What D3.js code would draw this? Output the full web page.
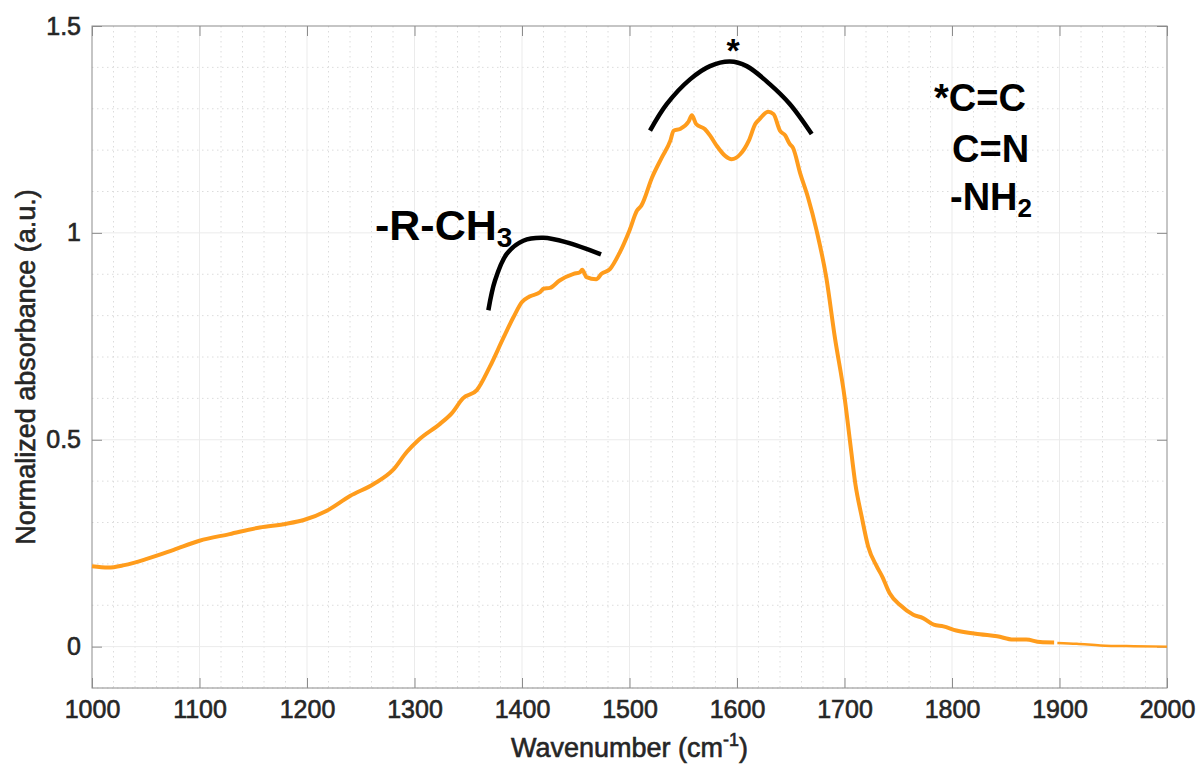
<!DOCTYPE html>
<html>
<head>
<meta charset="utf-8">
<script src="https://cdn.jsdelivr.net/npm/d3@7"></script>
<style>
  body { margin: 0; background: #fff; }
  text { font-family: "Liberation Sans", Arial, Helvetica, sans-serif; }
</style>
</head>
<body>
<div id="vis"></div>
<script>
// Frame and plot box
const FRAME_WIDTH = 1199;
const FRAME_HEIGHT = 767;
const MARGINS = {left: 92, right: 32, top: 26, bottom: 79};
const VIS_WIDTH = FRAME_WIDTH - MARGINS.left - MARGINS.right;
const VIS_HEIGHT = FRAME_HEIGHT - MARGINS.top - MARGINS.bottom;

// Spectrum, first (thick) segment: wavenumber and normalized absorbance
const wavenumbers = [1000, 1015, 1030, 1051, 1076, 1100, 1128, 1156, 1181, 1197,
  1218, 1240, 1262, 1280, 1293, 1304, 1324, 1335, 1345, 1358, 1370, 1383, 1392,
  1400, 1407, 1417, 1420, 1426, 1435, 1448, 1454, 1456, 1460, 1469, 1474, 1482,
  1491, 1500, 1507, 1511, 1521, 1530, 1538, 1541, 1547, 1555, 1558, 1562, 1570,
  1575, 1581, 1589, 1595, 1603, 1611, 1617, 1621, 1629, 1634, 1640, 1645, 1649,
  1652, 1659, 1666, 1674, 1683, 1691, 1700, 1705, 1710, 1716, 1722, 1730, 1735,
  1742, 1752, 1764, 1773, 1783, 1792, 1804, 1826, 1842, 1857, 1869, 1882, 1895];
const absorbance = [0.194, 0.191, 0.197, 0.212, 0.234, 0.256, 0.272, 0.288, 0.297, 0.306,
  0.328, 0.364, 0.393, 0.427, 0.471, 0.500, 0.539, 0.565, 0.600, 0.620, 0.676, 0.748, 0.796,
  0.833, 0.846, 0.857, 0.865, 0.867, 0.885, 0.901, 0.905, 0.911, 0.893, 0.888, 0.901, 0.913,
  0.953, 1.006, 1.054, 1.066, 1.134, 1.182, 1.223, 1.247, 1.251, 1.269, 1.284, 1.263, 1.251,
  1.235, 1.211, 1.186, 1.178, 1.190, 1.223, 1.263, 1.275, 1.293, 1.287, 1.247, 1.235, 1.215,
  1.206, 1.142, 1.086, 1.006, 0.893, 0.748, 0.604, 0.499, 0.395, 0.314, 0.242, 0.194, 0.170,
  0.129, 0.100, 0.077, 0.069, 0.053, 0.049, 0.039, 0.030, 0.025, 0.017, 0.017, 0.011, 0.010];

// Spectrum, second (thin) segment
const wavenumbersTail = [1898, 1916, 1938, 1969, 2000];
const absorbanceTail = [0.009, 0.007, 0.003, 0.001, 0.000];

// Hand-drawn brackets, in data coordinates
const bracketLeftX = [1368.7, 1374.9, 1385.8, 1401.2, 1419.8, 1441.6, 1473.5];
const bracketLeftY = [0.813, 0.885, 0.949, 0.981, 0.988, 0.977, 0.948];
const bracketRightX = [1519.1, 1534.6, 1556.3, 1574.9, 1593.5, 1609.0, 1630.7, 1649.3, 1669.5];
const bracketRightY = [1.247, 1.311, 1.371, 1.403, 1.414, 1.403, 1.359, 1.311, 1.239];

// Ticks
const xTicks = [1000, 1100, 1200, 1300, 1400, 1500, 1600, 1700, 1800, 1900, 2000];
const yTicks = [0, 0.5, 1, 1.5];
const yTickLabels = ["0", "0.5", "1", "1.5"];

const svg = d3.select("#vis")
  .append("svg")
    .attr("width", FRAME_WIDTH)
    .attr("height", FRAME_HEIGHT);

const X_SCALE = d3.scaleLinear().domain([1000, 2000]).range([0, VIS_WIDTH]);
const Y_SCALE = d3.scaleLinear().domain([-0.1, 1.5]).range([VIS_HEIGHT, 0]);

const g = svg.append("g")
  .attr("transform", "translate(" + MARGINS.left + "," + MARGINS.top + ")");

// minor dotted grid
g.append("g").selectAll("line")
  .data(d3.range(1020, 2000, 20).filter(v => v % 100 !== 0))
  .enter().append("line")
    .attr("x1", d => X_SCALE(d)).attr("x2", d => X_SCALE(d))
    .attr("y1", 0).attr("y2", VIS_HEIGHT)
    .attr("stroke", "#dcdcdc").attr("stroke-width", 1)
    .attr("stroke-dasharray", "1.5,3.5");
g.append("g").selectAll("line")
  .data(d3.range(-1, 15).map(i => i / 10).filter(v => Math.abs(v * 2 - Math.round(v * 2)) > 1e-6))
  .enter().append("line")
    .attr("x1", 0).attr("x2", VIS_WIDTH)
    .attr("y1", d => Y_SCALE(d)).attr("y2", d => Y_SCALE(d))
    .attr("stroke", "#dcdcdc").attr("stroke-width", 1)
    .attr("stroke-dasharray", "1.5,3.5");

// major grid
g.append("g").selectAll("line")
  .data(xTicks.slice(1, -1))
  .enter().append("line")
    .attr("x1", d => X_SCALE(d)).attr("x2", d => X_SCALE(d))
    .attr("y1", 0).attr("y2", VIS_HEIGHT)
    .attr("stroke", "#ebebeb").attr("stroke-width", 1);
g.append("g").selectAll("line")
  .data(yTicks.slice(0, -1))
  .enter().append("line")
    .attr("x1", 0).attr("x2", VIS_WIDTH)
    .attr("y1", d => Y_SCALE(d)).attr("y2", d => Y_SCALE(d))
    .attr("stroke", "#ebebeb").attr("stroke-width", 1);

// axes with inward ticks
const axisColor = "#8c8c8c";
const textColor = "#262626";
function styleAxis(sel) {
  sel.select(".domain").remove();
  sel.selectAll(".tick line").attr("stroke", axisColor);
  sel.selectAll(".tick text").attr("fill", textColor).attr("font-size", "25px")
    .attr("stroke", textColor).attr("stroke-width", 0.6)
    .attr("font-family", "'Liberation Sans', Arial, sans-serif");
}

g.append("g")
  .attr("transform", "translate(0," + VIS_HEIGHT + ")")
  .call(d3.axisBottom(X_SCALE).tickValues(xTicks).tickFormat(d3.format("d"))
    .tickSizeInner(-10).tickSizeOuter(0).tickPadding(12))
  .call(styleAxis);

g.append("g")
  .call(d3.axisTop(X_SCALE).tickValues(xTicks).tickFormat("")
    .tickSizeInner(-10).tickSizeOuter(0))
  .call(styleAxis);

g.append("g")
  .call(d3.axisLeft(Y_SCALE).tickValues(yTicks).tickFormat((d, i) => yTickLabels[i])
    .tickSizeInner(-10).tickSizeOuter(0).tickPadding(11))
  .call(styleAxis);

g.append("g")
  .attr("transform", "translate(" + VIS_WIDTH + ",0)")
  .call(d3.axisRight(Y_SCALE).tickValues(yTicks).tickFormat("")
    .tickSizeInner(-10).tickSizeOuter(0))
  .call(styleAxis);

// box
g.append("rect")
  .attr("x", 0).attr("y", 0)
  .attr("width", VIS_WIDTH).attr("height", VIS_HEIGHT)
  .attr("fill", "none").attr("stroke", axisColor).attr("stroke-width", 1);

// spectrum
const line = d3.line()
  .x(d => X_SCALE(d[0]))
  .y(d => Y_SCALE(d[1]))
  .curve(d3.curveMonotoneX);

g.append("path")
  .datum(wavenumbers.map((w, i) => [w, absorbance[i]]))
  .attr("d", line)
  .attr("fill", "none")
  .attr("stroke", "#ff9c1c")
  .attr("stroke-width", 4)
  .attr("stroke-linejoin", "round");

g.append("path")
  .datum(wavenumbersTail.map((w, i) => [w, absorbanceTail[i]]))
  .attr("d", line)
  .attr("fill", "none")
  .attr("stroke", "#ff9c1c")
  .attr("stroke-width", 2.5);

// brackets
const arc = d3.line()
  .x(d => X_SCALE(d[0]))
  .y(d => Y_SCALE(d[1]))
  .curve(d3.curveCatmullRom);

g.append("path")
  .datum(bracketLeftX.map((w, i) => [w, bracketLeftY[i]]))
  .attr("d", arc)
  .attr("fill", "none").attr("stroke", "#000").attr("stroke-width", 4.5);

g.append("path")
  .datum(bracketRightX.map((w, i) => [w, bracketRightY[i]]))
  .attr("d", arc)
  .attr("fill", "none").attr("stroke", "#000").attr("stroke-width", 4.5);

// annotations
const ann = svg.append("g")
  .attr("font-family", "'Liberation Sans', Arial, Helvetica, sans-serif")
  .attr("font-weight", "bold")
  .attr("fill", "#000");

const t1 = ann.append("text").attr("x", 375).attr("y", 240).attr("font-size", "43px");
t1.append("tspan").text("-R-CH");
t1.append("tspan").attr("font-size", "28px").attr("dy", 7).text("3");

ann.append("text").attr("x", 733).attr("y", 62).attr("font-size", "34px")
  .attr("text-anchor", "middle").text("*");

ann.append("text").attr("x", 934).attr("y", 111).attr("font-size", "38px").text("*C=C");
ann.append("text").attr("x", 952).attr("y", 162).attr("font-size", "38px").text("C=N");
const t2 = ann.append("text").attr("x", 950).attr("y", 210).attr("font-size", "38px");
t2.append("tspan").text("-NH");
t2.append("tspan").attr("font-size", "26px").attr("dy", 7).text("2");

// axis labels
const xl = svg.append("text")
  .attr("x", MARGINS.left + VIS_WIDTH / 2)
  .attr("y", 757)
  .attr("text-anchor", "middle")
  .attr("font-size", "27px")
  .attr("fill", textColor)
  .attr("stroke", textColor).attr("stroke-width", 0.6);
xl.append("tspan").text("Wavenumber (cm");
xl.append("tspan").attr("font-size", "18px").attr("dy", -11).text("-1");
xl.append("tspan").attr("dy", 11).text(")");

svg.append("text")
  .attr("transform", "translate(35,367) rotate(-90)")
  .attr("text-anchor", "middle")
  .attr("font-size", "27px")
  .attr("fill", textColor)
  .attr("stroke", textColor).attr("stroke-width", 0.6)
  .text("Normalized absorbance (a.u.)");
</script>
</body>
</html>
